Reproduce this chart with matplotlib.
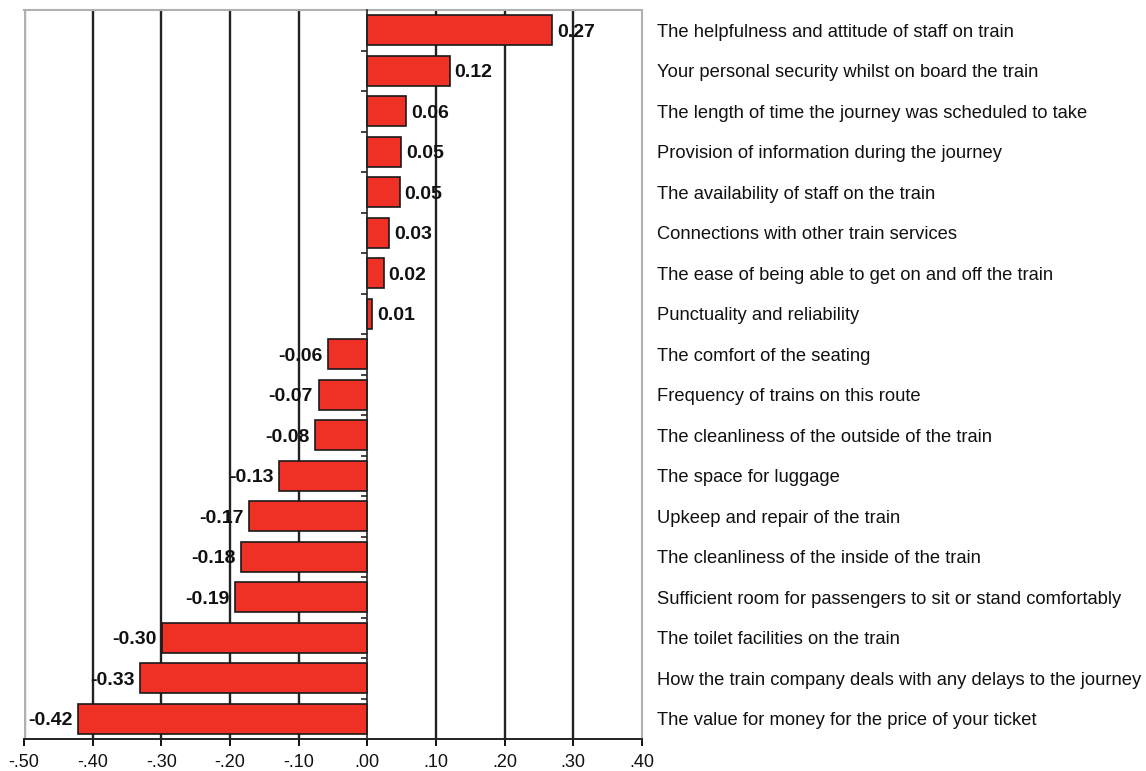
import numpy as np
import matplotlib
matplotlib.use("Agg")
import matplotlib.pyplot as plt
import matplotlib.transforms as mtransforms
from matplotlib.ticker import FuncFormatter

# Chart data (top to bottom)
categories = [
    "The helpfulness and attitude of staff on train",
    "Your personal security whilst on board the train",
    "The length of time the journey was scheduled to take",
    "Provision of information during the journey",
    "The availability of staff on the train",
    "Connections with other train services",
    "The ease of being able to get on and off the train",
    "Punctuality and reliability",
    "The comfort of the seating",
    "Frequency of trains on this route",
    "The cleanliness of the outside of the train",
    "The space for luggage",
    "Upkeep and repair of the train",
    "The cleanliness of the inside of the train",
    "Sufficient room for passengers to sit or stand comfortably",
    "The toilet facilities on the train",
    "How the train company deals with any delays to the journey",
    "The value for money for the price of your ticket",
]
values = [0.269, 0.120, 0.057, 0.049, 0.047, 0.032, 0.024, 0.007,
          -0.057, -0.071, -0.076, -0.128, -0.172, -0.184, -0.192,
          -0.299, -0.331, -0.421]
xticks = [-0.5, -0.4, -0.3, -0.2, -0.1, 0.0, 0.1, 0.2, 0.3, 0.4]

barColor = "#EE3124"
frameGray = "#B0B0B0"

plt.rcParams.update({"font.family": ["Liberation Sans", "DejaVu Sans"]})

fig = plt.figure(figsize=(11.46, 7.71), dpi=100)
ax = fig.add_axes([24 / 1146, 1 - 739 / 771, (642 - 24) / 1146, (739 - 10) / 771])

n = len(categories)
ypos = np.arange(n)

# vertical gridlines (inside only)
for xv in xticks[1:-1]:
    if xv != 0:
        ax.axvline(xv, color="#222222", linewidth=1.7, zorder=1)

ax.barh(ypos, values, height=0.74, color=barColor, edgecolor="#1a1a1a", linewidth=1.2, zorder=3)

# value labels
for y, v in zip(ypos, values):
    txt = f"{v:.2f}"
    if v >= 0:
        ax.text(v + 0.007, y, txt, ha="left", va="center_baseline", fontsize=14, fontweight="bold", color="#111111", zorder=4)
    else:
        ax.text(v - 0.008, y, txt, ha="right", va="center_baseline", fontsize=14, fontweight="bold", color="#111111", zorder=4)

# category labels to the right of the plot
trans = mtransforms.blended_transform_factory(ax.transAxes, ax.transData)
for y, c in zip(ypos, categories):
    ax.text(1.0 + (657 - 642) / 618, y, c, transform=trans, ha="left", va="center_baseline", fontsize=13.2, color="#111111")

ax.set_xlim(-0.5, 0.4)
ax.set_ylim(n - 0.5, -0.5)

# x axis
ax.set_xticks(xticks)
ax.xaxis.set_major_formatter(FuncFormatter(lambda x, pos: f"{x:.2f}".replace("0.", ".", 1)))
ax.tick_params(axis="x", direction="out", length=5, width=1.4, labelsize=13, pad=6, colors="#111111")

# category axis at zero with boundary ticks
ax.spines["left"].set_position(("data", 0))
ax.spines["left"].set_color("#222222")
ax.spines["left"].set_linewidth(1.2)
ax.spines["left"].set_zorder(5)
ax.set_yticks(np.arange(n + 1) - 0.5)
ax.set_yticklabels([])
ax.tick_params(axis="y", direction="out", length=4, width=1.2, colors="#222222")

ax.spines["bottom"].set_color("#222222")
ax.spines["bottom"].set_linewidth(1.4)
for s in ["top", "right"]:
    ax.spines[s].set_color(frameGray)
    ax.spines[s].set_linewidth(1.5)
ax.axvline(-0.5, color=frameGray, linewidth=2.5, zorder=0)

fig.savefig("out.png", dpi=100)
